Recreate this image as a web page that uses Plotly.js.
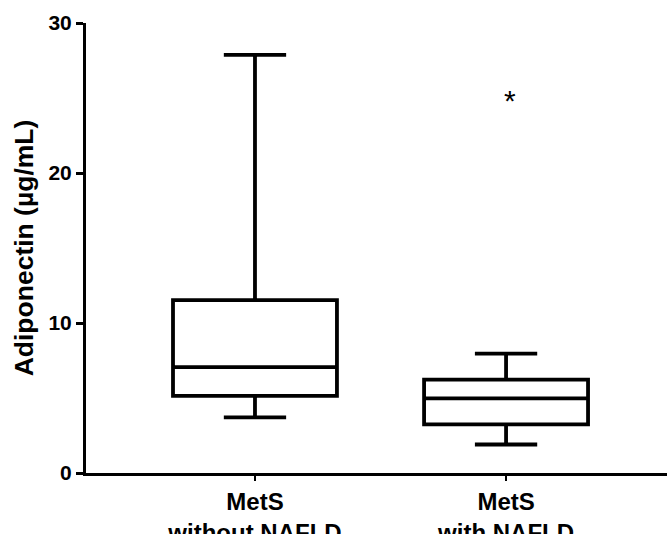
<!DOCTYPE html>
<html>
<head>
<meta charset="utf-8">
<script src="https://cdn.plot.ly/plotly-3.0.1.min.js"></script>
<style>html,body{margin:0;padding:0;background:#fff;}#chart{width:667px;height:534px;}</style>
</head>
<body>
<div id="chart"></div>
<script>
// Data
const categories = ["MetS<br>without NAFLD", "MetS<br>with NAFLD"];
const lowerWhisker = [3.71, 1.90];
const q1Values = [5.14, 3.24];
const medianValues = [7.06, 4.98];
const q3Values = [11.52, 6.22];
const upperWhisker = [27.87, 7.96];
const markerText = "*";
const markerCategoryIndex = 1;
const markerValue = 25;
const yTickVals = [0, 10, 20, 30];

const font = {family: "Liberation Sans, Arial, sans-serif", color: "#000", weight: 700};

const trace = {
  type: "box",
  x: categories,
  q1: q1Values,
  median: medianValues,
  q3: q3Values,
  lowerfence: lowerWhisker,
  upperfence: upperWhisker,
  boxpoints: false,
  width: 0.653,
  whiskerwidth: 0.38,
  line: {color: "#000", width: 3.8},
  fillcolor: "rgba(0,0,0,0)",
  hoverinfo: "skip",
  showlegend: false
};

const layout = {
  width: 667,
  height: 534,
  margin: {l: 86, r: 0, t: 23, b: 61},
  paper_bgcolor: "#fff",
  plot_bgcolor: "#fff",
  font: font,
  xaxis: {
    type: "category",
    range: [-0.673, 1.641],
    showline: true,
    linecolor: "#000",
    linewidth: 3,
    ticks: "outside",
    ticklen: 5,
    tickwidth: 2.5,
    tickcolor: "#000",
    showgrid: false,
    zeroline: false,
    tickfont: {family: font.family, size: 24, color: "#000", weight: 700}
  },
  yaxis: {
    range: [0, 30],
    tickvals: yTickVals,
    showline: true,
    linecolor: "#000",
    linewidth: 3,
    ticks: "outside",
    ticklen: 7,
    tickwidth: 3,
    tickcolor: "#000",
    showgrid: false,
    zeroline: false,
    tickfont: {family: font.family, size: 21, color: "#000", weight: 700},
    title: {text: "Adiponectin (µg/mL)", font: {family: font.family, size: 26.5, color: "#000", weight: 700}, standoff: 8}
  },
  annotations: [{
    x: categories[markerCategoryIndex],
    y: markerValue,
    xref: "x",
    yref: "y",
    text: markerText,
    showarrow: false,
    xshift: 4,
    yshift: -2,
    font: {family: font.family, size: 30, color: "#000", weight: 400}
  }]
};

Plotly.newPlot("chart", [trace], layout, {displayModeBar: false, staticPlot: true});
</script>
</body>
</html>
